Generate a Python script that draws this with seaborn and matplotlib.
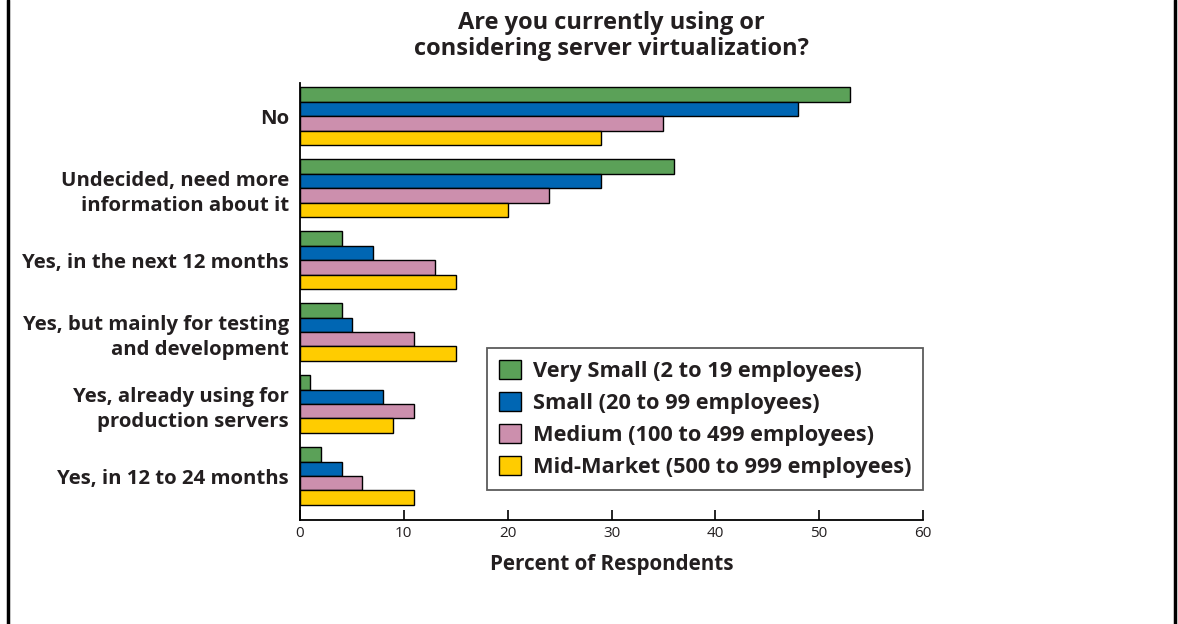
import numpy as np
import matplotlib.pyplot as plt
import seaborn as sns
import pandas as pd
from matplotlib.lines import Line2D

# answers, top to bottom
answers = ["No",
           "Undecided, need more\ninformation about it",
           "Yes, in the next 12 months",
           "Yes, but mainly for testing\nand development",
           "Yes, already using for\nproduction servers",
           "Yes, in 12 to 24 months"]

sizes = ["Very Small (2 to 19 employees)",
         "Small (20 to 99 employees)",
         "Medium (100 to 499 employees)",
         "Mid-Market (500 to 999 employees)"]

very_small = [53, 36, 4, 4, 1, 2]
small = [48, 29, 7, 5, 8, 4]
medium = [35, 24, 13, 11, 11, 6]
mid_market = [29, 20, 15, 15, 9, 11]

colors = ["#5BA158", "#0066B3", "#CC8FAD", "#FFCC00"]

rows = []
for size, vals in zip(sizes, [very_small, small, medium, mid_market]):
    for a, v in zip(answers, vals):
        rows.append({"answer": a, "size": size, "pct": v})
df = pd.DataFrame(rows)

sns.set_style("white")
plt.rcParams['font.family'] = ['Open Sans', 'DejaVu Sans']
txt = "#231f20"

fig = plt.figure(figsize=(11.78, 6.24), dpi=100)
ax = fig.add_axes([300/1178, 1 - 520/624, 623/1178, 437/624])

sns.barplot(data=df, x="pct", y="answer", hue="size", order=answers,
            hue_order=sizes, palette=colors, orient="h", width=0.8,
            edgecolor="black", linewidth=1, saturation=1, ax=ax)

ax.set_xlim(0, 60)
ax.set_ylim(5.61, -0.46)
ax.set_xticks(range(0, 61, 10))
ax.tick_params(axis="x", direction="in", length=7, width=1.2, color="black",
               labelsize=11, labelcolor=txt, pad=4, bottom=True)
ax.tick_params(axis="y", length=0, labelsize=14.7, labelcolor=txt, pad=8)
for lab in ax.get_yticklabels():
    lab.set_fontweight("bold")
    lab.set_horizontalalignment("right")
    lab.set_multialignment("right")
    lab.set_linespacing(1.35)
ax.set_ylabel("")
ax.set_xlabel("Percent of Respondents", fontsize=14.9, fontweight="bold",
              color=txt, labelpad=10)
for s in ["top", "right"]:
    ax.spines[s].set_visible(False)
for s in ["left", "bottom"]:
    ax.spines[s].set_color("black")
    ax.spines[s].set_linewidth(1.3)

handles, labels = ax.get_legend_handles_labels()
ax.legend(handles, labels, loc="lower right", bbox_to_anchor=(1.0, 0.069),
          borderaxespad=0, frameon=True, fancybox=False, edgecolor="#333333",
          prop={"size": 15.7, "weight": "bold"}, labelcolor=txt,
          handlelength=1.0, handleheight=1.0, handletextpad=0.55,
          labelspacing=0.45, borderpad=0.55)
ax.get_legend().get_frame().set_linewidth(1.3)

fig.text(611/1178, 1 - 36/624, "Are you currently using or\nconsidering server virtualization?",
         ha="center", va="center", fontsize=17, fontweight="bold", color=txt,
         linespacing=1.1)

# outer frame lines
fig.add_artist(Line2D([8/1178, 8/1178], [0, 1], color="black", lw=2.5))
fig.add_artist(Line2D([1175/1178, 1175/1178], [0, 1], color="black", lw=2.5))

fig.savefig("out.png", dpi=100)
